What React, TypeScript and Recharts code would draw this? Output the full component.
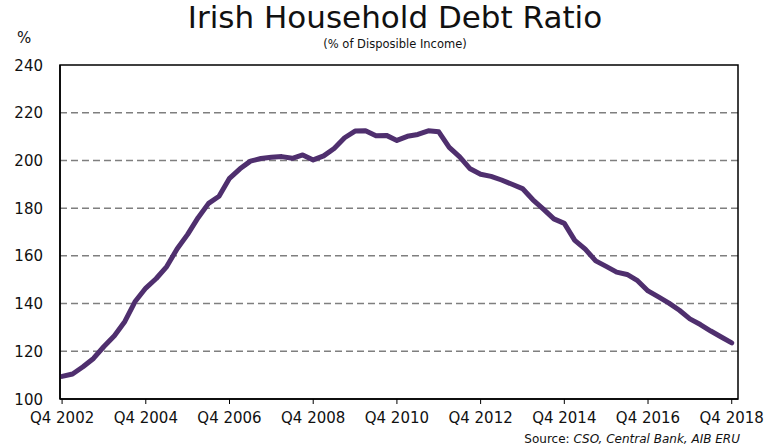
import React from 'react';
import { LineChart, Line, XAxis, YAxis, CartesianGrid, ReferenceArea } from 'recharts';

const debtRatio: number[] = [
  109.5, 110.5, 113.5, 117, 122, 126.5, 132.5, 141, 146.5, 150.5,
  155.5, 163, 169, 176, 182, 185, 192.5, 196.5, 199.7, 200.8,
  201.3, 201.6, 200.9, 202.3, 200.2, 201.9, 205, 209.5, 212.3, 212.4,
  210.3, 210.5, 208.4, 210.1, 210.9, 212.4, 212, 205.5, 201.5, 196.5,
  194.2, 193.3, 191.8, 190, 188.2, 183.5, 179.6, 175.5, 173.6, 166.5,
  162.8, 157.9, 155.6, 153.2, 152.2, 149.6, 145.3, 142.8, 140.2, 137.2,
  133.6, 131.2, 128.5, 126, 123.5,
];

const xTickPositions: number[] = [0, 8, 16, 24, 32, 40, 48, 56, 64];
const xTickLabels: string[] = [
  'Q4 2002', 'Q4 2004', 'Q4 2006', 'Q4 2008', 'Q4 2010',
  'Q4 2012', 'Q4 2014', 'Q4 2016', 'Q4 2018',
];
const yTicks: number[] = [100, 120, 140, 160, 180, 200, 220, 240];

const data = debtRatio.map((v, i) => ({ q: i, value: v }));

const FONT = '"DejaVu Sans", Verdana, sans-serif';

const XTick = (props: any) => {
  const { x, y, payload } = props;
  const idx = xTickPositions.indexOf(payload.value);
  return (
    <text x={x} y={y + 17} textAnchor="middle" fontSize={15} fill="#111" fontFamily={FONT}>
      {idx >= 0 ? xTickLabels[idx] : ''}
    </text>
  );
};

const YTick = (props: any) => {
  const { y, payload } = props;
  return (
    <text x={43} y={y + 5.5} textAnchor="end" fontSize={15} fill="#111" fontFamily={FONT}>
      {payload.value}
    </text>
  );
};

export default function App() {
  return (
    <div style={{ position: 'absolute', left: 0, top: 0, width: 781, height: 446, background: '#fff' }}>
      <div style={{ position: 'absolute', left: 0, top: 0 }}>
        <LineChart width={781} height={446} data={data} margin={{ top: 65, right: 43, bottom: 17, left: 0 }}>
          <CartesianGrid vertical={false} stroke="#7f7f7f" strokeWidth={1.5} strokeDasharray="7 4" horizontalValues={[120, 140, 160, 180, 200, 220]} />
          <XAxis
            dataKey="q"
            type="number"
            domain={[-0.2, 64.6]}
            ticks={xTickPositions}
            interval={0}
            tick={<XTick />}
            tickLine={{ stroke: '#000' }}
            tickSize={5}
            axisLine={{ stroke: '#000', strokeWidth: 1.5 }}
            height={30}
          />
          <YAxis
            type="number"
            domain={[100, 240]}
            ticks={yTicks}
            interval={0}
            tick={<YTick />}
            tickLine={false}
            axisLine={{ stroke: '#000', strokeWidth: 1.5 }}
            width={60}
          />
          <ReferenceArea x1={-0.2} x2={64.6} y1={100} y2={240} fill="none" stroke="#000" strokeWidth={1.5} ifOverflow="visible" />
          <Line
            type="linear"
            dataKey="value"
            stroke="#4f2f6e"
            strokeWidth={5}
            strokeLinecap="round"
            strokeLinejoin="round"
            dot={false}
            activeDot={false}
            isAnimationActive={false}
          />
        </LineChart>
      </div>
      <svg width={781} height={446} style={{ position: 'absolute', left: 0, top: 0, pointerEvents: 'none' }}>
        <text x={395} y={28} textAnchor="middle" fontSize={31} fill="#111" fontFamily={FONT}>
          Irish Household Debt Ratio
        </text>
        <text x={395} y={48} textAnchor="middle" fontSize={11.5} fill="#111" fontFamily={FONT}>
          (% of Disposible Income)
        </text>
        <text x={17} y={43} fontSize={15} fill="#111" fontFamily={FONT}>%</text>
        <text x={740} y={443} textAnchor="end" fontSize={12} fill="#111" fontFamily={FONT}>
          Source: <tspan fontStyle="italic">CSO, Central Bank, AIB ERU</tspan>
        </text>
      </svg>
    </div>
  );
}
